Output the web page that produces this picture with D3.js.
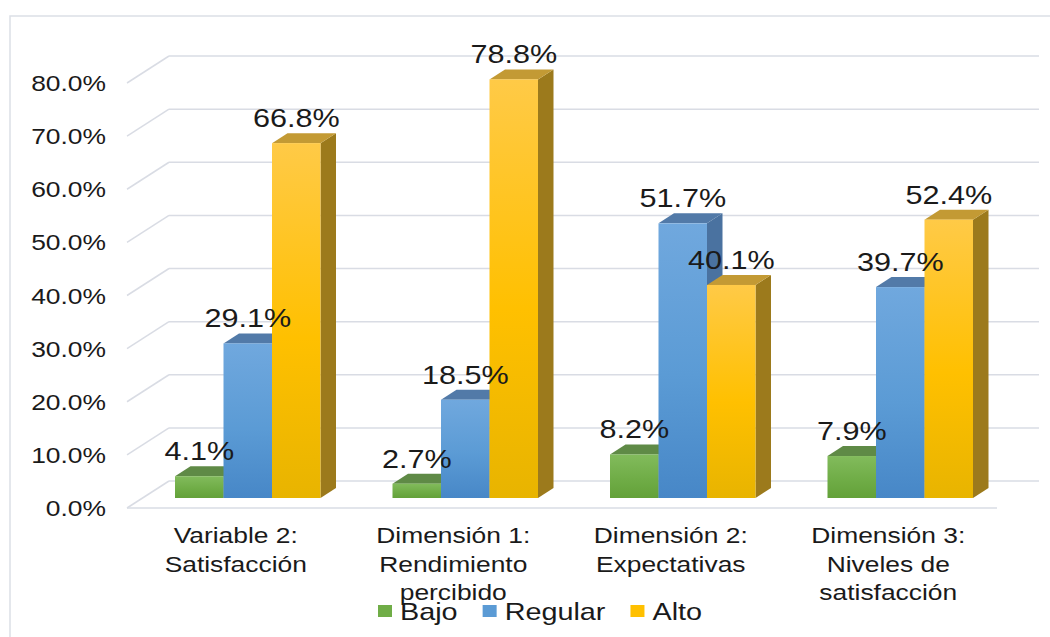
<!DOCTYPE html>
<html>
<head>
<meta charset="utf-8">
<script src="https://cdn.jsdelivr.net/npm/d3@7"></script>
<style>
  body { margin: 0; background: #fff; }
  svg { display: block; font-family: "Liberation Sans", Arial, sans-serif; }
  text { fill: #1a1a1a; }
</style>
</head>
<body>
<script>
// chart values
const categories = ["Variable 2: Satisfacción", "Dimensión 1: Rendimiento percibido", "Dimensión 2: Expectativas", "Dimensión 3: Niveles de satisfacción"];
const categoryLines = [["Variable 2:", "Satisfacción"], ["Dimensión 1:", "Rendimiento", "percibido"], ["Dimensión 2:", "Expectativas"], ["Dimensión 3:", "Niveles de", "satisfacción"]];
const series = ["Bajo", "Regular", "Alto"];
const bajo = [4.1, 2.7, 8.2, 7.9];
const regular = [29.1, 18.5, 51.7, 39.7];
const alto = [66.8, 78.8, 40.1, 52.4];
const yTicks = [0, 10, 20, 30, 40, 50, 60, 70, 80];

const W = 1050, H = 637;
const SX = 1.2;                     // the original picture is stretched sideways
const depth = {dx: 42, dy: -27};    // full depth of the 3d box
const barShift = {dx: 15.5, dy: -10}; // where the bars stand inside the depth
const barDepth = {dx: 15.5, dy: -10};

const colors = {
  Bajo:    {top: "#82bb5c", mid: "#70ad47", bot: "#63a139", side: "#4f7a30", cap: "#5f8a46"},
  Regular: {top: "#70a8de", mid: "#5b9bd5", bot: "#4787c7", side: "#4a72a0", cap: "#527aa8"},
  Alto:    {top: "#ffca47", mid: "#ffc000", bot: "#e8b400", side: "#9c7a1c", cap: "#c39a34"}
};

const values = {Bajo: bajo, Regular: regular, Alto: alto};

const svg = d3.select("body").append("svg").attr("width", W).attr("height", H);

// gradients for the bar faces
const defs = svg.append("defs");
series.forEach(s => {
  const g = defs.append("linearGradient").attr("id", "g" + s).attr("x1", 0).attr("y1", 0).attr("x2", 0).attr("y2", 1);
  g.append("stop").attr("offset", "0%").attr("stop-color", colors[s].top);
  g.append("stop").attr("offset", "55%").attr("stop-color", colors[s].mid);
  g.append("stop").attr("offset", "100%").attr("stop-color", colors[s].bot);
});

// chart border
svg.append("rect").attr("x", 10).attr("y", 16).attr("width", 1100).attr("height", 700)
  .attr("fill", "none").attr("stroke", "#dcdfe6").attr("stroke-width", 1.5);

const x = d3.scaleBand().domain(categories).range([127, 997]);
const y = d3.scaleLinear().domain([0, 80]).range([508, 83]);
const xs = d3.scaleBand().domain(series).range([0, 145.5]);

function stext(g, px, py, str, size, anchor) {
  return g.append("text")
    .attr("transform", `translate(${px},${py}) scale(${SX},1)`)
    .attr("text-anchor", anchor)
    .style("font-size", size + "px")
    .text(str);
}

// walls / gridlines
const grid = svg.append("g").attr("stroke", "#d9dce4").attr("stroke-width", 1.5).attr("fill", "none");
yTicks.forEach(t => {
  const yy = y(t);
  grid.append("line").attr("x1", 127).attr("y1", yy).attr("x2", 127 + depth.dx).attr("y2", yy + depth.dy);
  grid.append("line").attr("x1", 127 + depth.dx).attr("y1", yy + depth.dy).attr("x2", 997 + depth.dx).attr("y2", yy + depth.dy);
});
grid.append("line").attr("x1", 127).attr("y1", y(0)).attr("x2", 997).attr("y2", y(0));

// y tick labels
const yAxis = svg.append("g");
yTicks.forEach(t => {
  stext(yAxis, 106, y(t) + 8, d3.format(".1f")(t) + "%", 22, "end");
});

// bars
const bars = svg.append("g");
const labels = svg.append("g");
categories.forEach((c, i) => {
  const gx = x(c) + 32.5 + barShift.dx;
  series.forEach(s => {
    const v = values[s][i];
    const x0 = gx + xs(s), x1 = x0 + xs.bandwidth();
    const base = y(0) + barShift.dy;
    const top = y(v) + barShift.dy;
    const dx = barDepth.dx, dy = barDepth.dy;
    // side face
    bars.append("path")
      .attr("d", `M${x1},${top}L${x1 + dx},${top + dy}L${x1 + dx},${base + dy}L${x1},${base}Z`)
      .attr("fill", colors[s].side);
    // top face
    bars.append("path")
      .attr("d", `M${x0},${top}L${x0 + dx},${top + dy}L${x1 + dx},${top + dy}L${x1},${top}Z`)
      .attr("fill", colors[s].cap);
    // front face
    bars.append("rect")
      .attr("x", x0).attr("y", top).attr("width", x1 - x0).attr("height", base - top)
      .attr("fill", `url(#g${s})`);
    stext(labels, (x0 + x1) / 2, top - 16, d3.format(".1f")(v) + "%", 25.5, "middle");
  });
});

// category labels
const xAxis = svg.append("g");
categories.forEach((c, i) => {
  categoryLines[i].forEach((ln, k) => {
    stext(xAxis, x(c) + x.bandwidth() / 2, 543 + k * 28.5, ln, 22, "middle");
  });
});

// legend
const legend = svg.append("g");
let lx = 378;
series.forEach(s => {
  legend.append("rect").attr("x", lx).attr("y", 605).attr("width", 14).attr("height", 12)
    .attr("fill", colors[s].mid);
  const t = stext(legend, lx + 22, 620, s, 24, "start");
  lx += 22 + t.node().getComputedTextLength() * SX + 25;
});
</script>
</body>
</html>
